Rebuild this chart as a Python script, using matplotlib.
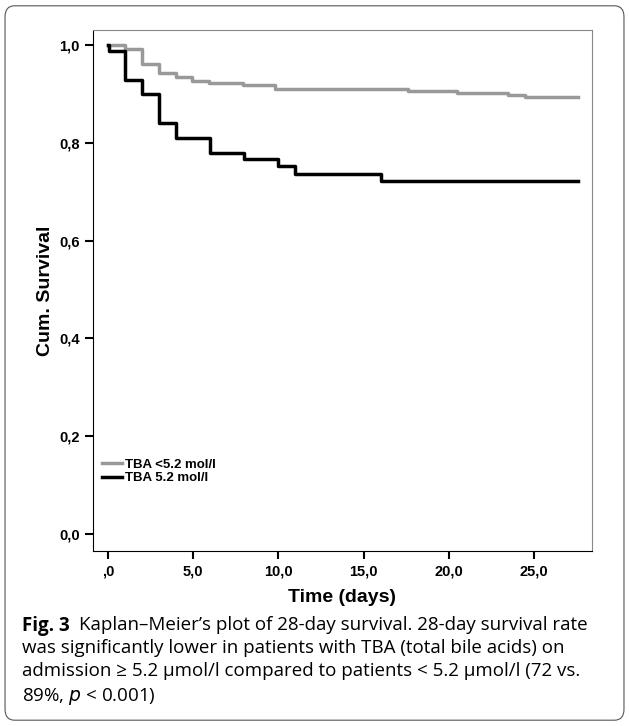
import matplotlib.pyplot as plt
from matplotlib.patches import FancyBboxPatch

plt.rcParams['font.family'] = 'Liberation Sans'

# step data
low_t = [0, 1.0, 2.0, 3.0, 4.0, 4.9, 5.9, 7.9, 9.8, 17.6, 20.5, 23.5, 24.5, 27.6]
low_s = [1.0, 0.991, 0.960, 0.943, 0.935, 0.926, 0.923, 0.918, 0.910, 0.906, 0.902, 0.897, 0.894, 0.894]
high_t = [0, 0.05, 1.0, 2.0, 3.0, 4.0, 6.0, 8.0, 10.0, 11.0, 16.0, 27.6]
high_s = [1.0, 0.988, 0.928, 0.899, 0.840, 0.810, 0.780, 0.766, 0.752, 0.736, 0.721, 0.721]

xticks = [0, 5, 10, 15, 20, 25]
xlabels = [',0', '5,0', '10,0', '15,0', '20,0', '25,0']
yticks = [0, 0.2, 0.4, 0.6, 0.8, 1.0]
ylabels = ['0,0', '0,2', '0,4', '0,6', '0,8', '1,0']

fig = plt.figure(figsize=(6.29, 7.26), dpi=100)
fig.patches.append(FancyBboxPatch((0.008, 0.008), 0.984, 0.984, boxstyle='round,pad=0,rounding_size=0.015',
                                  transform=fig.transFigure, fill=False, ec='#555555', lw=0.8))
ax = fig.add_axes([0.148, 0.241, 0.793, 0.718])
ax.step(low_t, low_s, where='post', color='#999999', lw=2.5, label='TBA <5.2 mol/l')
ax.step(high_t, high_s, where='post', color='black', lw=2.5, label='TBA 5.2 mol/l')
ax.set_xlim(-0.88, 28.4)
ax.set_ylim(-0.035, 1.031)
ax.set_xticks(xticks, xlabels)
ax.set_yticks(yticks, ylabels)
for s in ['top', 'right']:
    ax.spines[s].set_color('#888888')
ax.tick_params(direction='out', length=6, width=1.5, labelsize=10.5)
for lab in ax.get_xticklabels() + ax.get_yticklabels():
    lab.set_fontweight('bold')
ax.set_xlabel('Time (days)', fontsize=14, fontweight='bold', va='center')
ax.xaxis.set_label_coords(0.5, -0.089)
ax.set_ylabel('Cum. Survival', fontsize=14, fontweight='bold')
leg = ax.legend(loc='lower left', bbox_to_anchor=(0.0, 0.11), frameon=False, fontsize=9.5,
                handlelength=1.5, handletextpad=0.2, labelspacing=0.1, borderpad=0.2)
for t in leg.get_texts():
    t.set_fontweight('bold')

x0 = 0.035
figlab = fig.text(x0, 0.152, 'Fig. 3', fontsize=13.5, fontweight='bold', va='top', family='Open Sans')
fig.canvas.draw()
bb = figlab.get_window_extent().transformed(fig.transFigure.inverted())
fig.text(bb.x1 + 0.015, 0.152, 'Kaplan–Meier’s plot of 28-day survival. 28-day survival rate',
         fontsize=13.5, va='top', family='Open Sans')
fig.text(x0, 0.152, '\nwas significantly lower in patients with TBA (total bile acids) on'
         '\nadmission ≥ 5.2 µmol/l compared to patients < 5.2 µmol/l (72 vs.'
         '\n89%, $\\it{p}$ < 0.001)', fontsize=13.5, va='top', linespacing=1.38, family='Open Sans')
fig.savefig('out.png', dpi=100)
